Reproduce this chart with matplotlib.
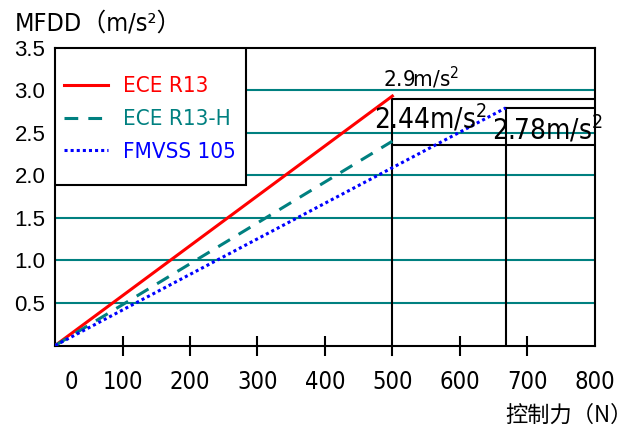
import matplotlib
matplotlib.use("Agg")
import matplotlib.pyplot as plt
from matplotlib import font_manager
from matplotlib.patches import Rectangle
from matplotlib.transforms import ScaledTranslation

# data
forces = [0, 100, 200, 300, 400, 500, 600, 700, 800]
y_ticks = [0.5, 1.0, 1.5, 2.0, 2.5, 3.0, 3.5]
grid_levels = [0.5, 1.0, 1.5, 2.0, 2.5, 3.0]

series_names = ["ECE R13", "ECE R13-H", "FMVSS 105"]
series_force = [[0, 500], [0, 500], [0, 668]]
series_mfdd = [[0, 2.93], [0, 2.40], [0, 2.79]]
series_colors = ["#ff0000", "#008080", "#0000ff"]
series_styles = ["-", (0, (4.5, 3.3)), (0, (1, 1))]

limit_force = [500, 500, 668]
limit_mfdd = [2.9, 2.35, 2.79]
limit_text = ["2.9m/s$^2$", "2.44m/s$^2$", "2.78m/s$^2$"]

# look for a narrow sans face, the original uses one
narrow, stretch = "Liberation Sans", "normal"
wanted = ["LiberationSansNarrow-Regular", "DejaVuSansCondensed.",
          "NotoSans-Condensed.", "RobotoCondensed-Regular", "OpenSans_Condensed-Regular",
          "OpenSansCondensed-Regular", "Roboto_Condensed-Regular"]
found = False
for w in wanted:
    for f in font_manager.fontManager.ttflist:
        if w in f.fname:
            narrow, stretch = f.name, f.stretch
            found = True
            break
    if found:
        break

plt.rcParams["font.family"] = [narrow, "DejaVu Sans"]
plt.rcParams["font.stretch"] = stretch
plt.rcParams["mathtext.default"] = "regular"

fig = plt.figure(figsize=(6.34, 4.30), dpi=100)
ax = fig.add_axes([0.087, 0.1965, 0.851, 0.693])
ax.set_xlim(0, 800)
ax.set_ylim(0, 3.5)

for g in grid_levels:
    ax.axhline(g, color="#008080", lw=1.5, zorder=1)

for fx, fy, c, ls, name in zip(series_force, series_mfdd, series_colors,
                                series_styles, series_names):
    ax.plot(fx, fy, color=c, ls=ls, lw=2.2, label=name, zorder=3)

# limit brackets
ax.plot([limit_force[0], 800], [limit_mfdd[0]] * 2, color="k", lw=1.5, zorder=2)
ax.plot([limit_force[1], 800], [limit_mfdd[1]] * 2, color="k", lw=1.5, zorder=2)
ax.plot([limit_force[2], 800], [limit_mfdd[2]] * 2, color="k", lw=1.5, zorder=2)
ax.plot([limit_force[0]] * 2, [-0.11, limit_mfdd[0]], color="k", lw=1.5,
        zorder=2, clip_on=False)
ax.plot([limit_force[2]] * 2, [0, limit_mfdd[2]], color="k", lw=1.5, zorder=2)

ax.text(543, 3.14, limit_text[0], fontsize=16, ha="center", va="center")
ax.text(556, 2.66, limit_text[1], fontsize=20, ha="center", va="center")
ax.text(730, 2.54, limit_text[2], fontsize=20, ha="center", va="center")

for s in ax.spines.values():
    s.set_linewidth(1.5)

ax.set_xticks(forces)
ax.set_xticklabels([str(f) for f in forces], fontsize=17)
ax.tick_params(axis="x", direction="inout", length=15, width=1.5, pad=10)
xt = ax.xaxis.get_major_ticks()
xt[0].tick1line.set_visible(False)
xt[-1].tick1line.set_visible(False)
xt[5].tick1line.set_visible(False)
ax.set_yticks(y_ticks)
ax.set_yticklabels([f"{v:.1f}" for v in y_ticks], fontsize=16,
                   family="Liberation Sans", stretch="normal")
ax.tick_params(axis="y", length=0, pad=7)

lab0 = ax.get_xticklabels()[0]
lab0.set_transform(lab0.get_transform() + ScaledTranslation(0.16, 0, fig.dpi_scale_trans))

# legend: white box drawn behind a frameless legend
ax.add_patch(Rectangle((0, 0.539), 0.353, 0.461, transform=ax.transAxes,
                       facecolor="white", edgecolor="k", lw=1.5, zorder=4))
leg = ax.legend(loc="upper left", bbox_to_anchor=(0.016, 0.903), fontsize=16,
                frameon=False, borderpad=0, handlelength=2.0,
                labelspacing=0.58, borderaxespad=0, handletextpad=0.65)
leg.set_zorder(5)
for t, c in zip(leg.get_texts(), series_colors):
    t.set_color(c)

fig.text(0.024, 0.945, "MFDD（m/s²）", fontsize=18, va="center",
         family=[narrow, "Noto Sans CJK SC"], stretch=stretch)
fig.text(0.998, 0.035, "控制力（N）", fontsize=16, va="center", ha="right",
         family=["Noto Sans CJK SC", narrow])

fig.savefig("out.png", dpi=100)
